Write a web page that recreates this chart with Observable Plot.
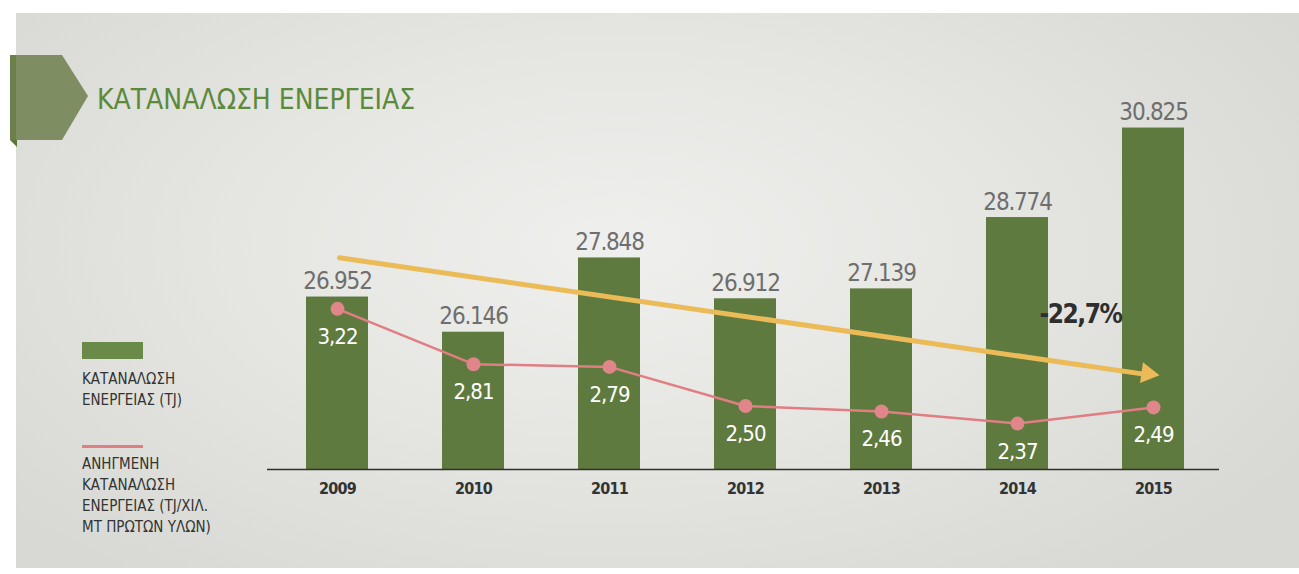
<!DOCTYPE html>
<html>
<head>
<meta charset="utf-8">
<script src="https://cdn.jsdelivr.net/npm/d3@7"></script>
<script src="https://cdn.jsdelivr.net/npm/@observablehq/plot@0.6"></script>
<style>
  html, body { margin: 0; padding: 0; background: #ffffff; }
  #wrap { position: relative; width: 1299px; height: 574px; overflow: hidden; }
  #panel { position: absolute; left: 16px; top: 13px; right: 0; bottom: 6px;
    background: radial-gradient(ellipse 62% 75% at 47% 42%, #efefed 0%, #e6e6e3 45%, #d8d9d4 100%); }
  .layer { position: absolute; left: 0; top: 0; }
</style>
</head>
<body>
<div id="wrap">
  <div id="panel"></div>
  <svg id="deco" class="layer" width="1299" height="574"></svg>
  <div id="bars" class="layer"></div>
  <div id="lines" class="layer"></div>
</div>
<script>
// ---- data ----
const years = ["2009", "2010", "2011", "2012", "2013", "2014", "2015"];
const energy = [26952, 26146, 27848, 26912, 27139, 28774, 30825];        // TJ
const intensity = [3.22, 2.81, 2.79, 2.50, 2.46, 2.37, 2.49];           // TJ / thousand t raw material
const trendYears = ["2009", "2015"];
const trendLevels = [27858, 25154];
const trendLabel = "-22,7%";
const titleText = "ΚΑΤΑΝΑΛΩΣΗ ΕΝΕΡΓΕΙΑΣ";
const legendBarLines = ["ΚΑΤΑΝΑΛΩΣΗ", "ΕΝΕΡΓΕΙΑΣ (TJ)"];
const legendLineLines = ["ΑΝΗΓΜΕΝΗ", "ΚΑΤΑΝΑΛΩΣΗ", "ΕΝΕΡΓΕΙΑΣ (TJ/ΧΙΛ.", "ΜΤ ΠΡΩΤΩΝ ΥΛΩΝ)"];

const rows = years.map((year, i) => ({year, energy: energy[i], intensity: intensity[i]}));
const trend = [{x1: trendYears[0], y1: trendLevels[0], x2: trendYears[1], y2: trendLevels[1]}];

const locale = d3.formatLocale({decimal: ",", thousands: ".", grouping: [3], currency: ["", "€"]});
const fmtK = locale.format(",d");
const fmt2 = locale.format(".2f");

const FONT = '"DejaVu Sans Condensed", "Liberation Sans Narrow", "Roboto", sans-serif';
const BAR = "#5f7a3f";
const PINK = "#e07e83";
const YELLOW = "#ebbb58";

const common = {
  width: 1299, height: 574,
  marginLeft: 269, marginRight: 78, marginTop: 100, marginBottom: 105,
  x: {type: "band", domain: years, paddingInner: 0.544, paddingOuter: 0.272, axis: null},
  style: {background: "transparent", fontFamily: FONT, overflow: "visible"}
};

const barsPlot = Plot.plot({
  ...common,
  y: {domain: [23000, 31456], axis: null},
  marks: [
    Plot.barY(rows, {x: "year", y1: 23000, y2: "energy", fill: BAR}),
    Plot.ruleY([23000], {stroke: "#2f2f2f", strokeWidth: 1.5, insetLeft: -2, insetRight: 2}),
    Plot.text(rows, {x: "year", y: "energy", text: d => fmtK(d.energy), dy: -8, lineAnchor: "bottom",
      fill: "#6e6e6e", fontSize: 24}),
    Plot.axisX({tickSize: 0, tickPadding: 13, fontSize: 16, fontWeight: "bold", fill: "#333333", color: "#333333"}),
    Plot.arrow(trend, {x1: "x1", y1: "y1", x2: "x2", y2: "y2", stroke: YELLOW, strokeWidth: 5,
      headLength: 0, insetStart: 2, insetEnd: 8}),
    Plot.dot(trend, {x: "x2", y: "y2", symbol: "triangle2", r: 10, fill: YELLOW, stroke: "none",
      rotate: 98, dx: -6, dy: -2}),
    Plot.text([trendLabel], {x: () => "2014", y: () => 26552, text: d => d, dx: 63, lineAnchor: "middle",
      fill: "#2e2e2e", fontSize: 26, fontWeight: "bold"})
  ]
});
const texts = d3.select(barsPlot).selectAll('g[aria-label="text"]').nodes();
d3.select(texts[0]).selectAll("text").style("letter-spacing", "-1.2px");
d3.select(texts[1]).selectAll("text").style("letter-spacing", "-1.5px");
d3.select(barsPlot).selectAll('g[aria-label="x-axis tick label"] text').style("letter-spacing", "-0.8px");
document.getElementById("bars").appendChild(barsPlot);

const linePlot = Plot.plot({
  ...common,
  y: {domain: [2.03, 4.763], axis: null},
  marks: [
    Plot.line(rows, {x: "year", y: "intensity", stroke: PINK, strokeWidth: 2.5}),
    Plot.dot(rows, {x: "year", y: "intensity", r: 7, fill: "#e0868a"}),
    Plot.text(rows, {x: "year", y: "intensity", text: d => fmt2(d.intensity), dy: 35, lineAnchor: "bottom",
      fill: "#ffffff", fontSize: 22})
  ]
});
d3.select(linePlot).selectAll('g[aria-label="text"] text').style("letter-spacing", "-1px");
document.getElementById("lines").appendChild(linePlot);

// ---- decoration: banner, title, legend ----
const deco = d3.select("#deco").style("font-family", FONT);
deco.append("polygon").attr("points", "10,55 62,55 88,96 62,140 10,140").attr("fill", "#7f8d62");
deco.append("rect").attr("x", 10).attr("y", 55).attr("width", 6).attr("height", 85).attr("fill", "#6c7f4b");
deco.append("polygon").attr("points", "10,140 17,140 17,147").attr("fill", "#5b7438");
deco.append("text").attr("x", 97).attr("y", 109).attr("font-size", 28).attr("fill", "#5b8a3a").text(titleText);

deco.append("rect").attr("x", 82).attr("y", 342).attr("width", 61).attr("height", 17).attr("fill", "#6a8a4a");
legendBarLines.forEach((t, i) => deco.append("text").attr("x", 82).attr("y", 384 + i * 21)
  .attr("font-size", 15).attr("fill", "#333333").text(t));
deco.append("rect").attr("x", 82).attr("y", 445).attr("width", 61).attr("height", 3).attr("fill", PINK);
legendLineLines.forEach((t, i) => deco.append("text").attr("x", 82).attr("y", 469 + i * 21)
  .attr("font-size", 15).attr("fill", "#333333").text(t));
</script>
</body>
</html>
